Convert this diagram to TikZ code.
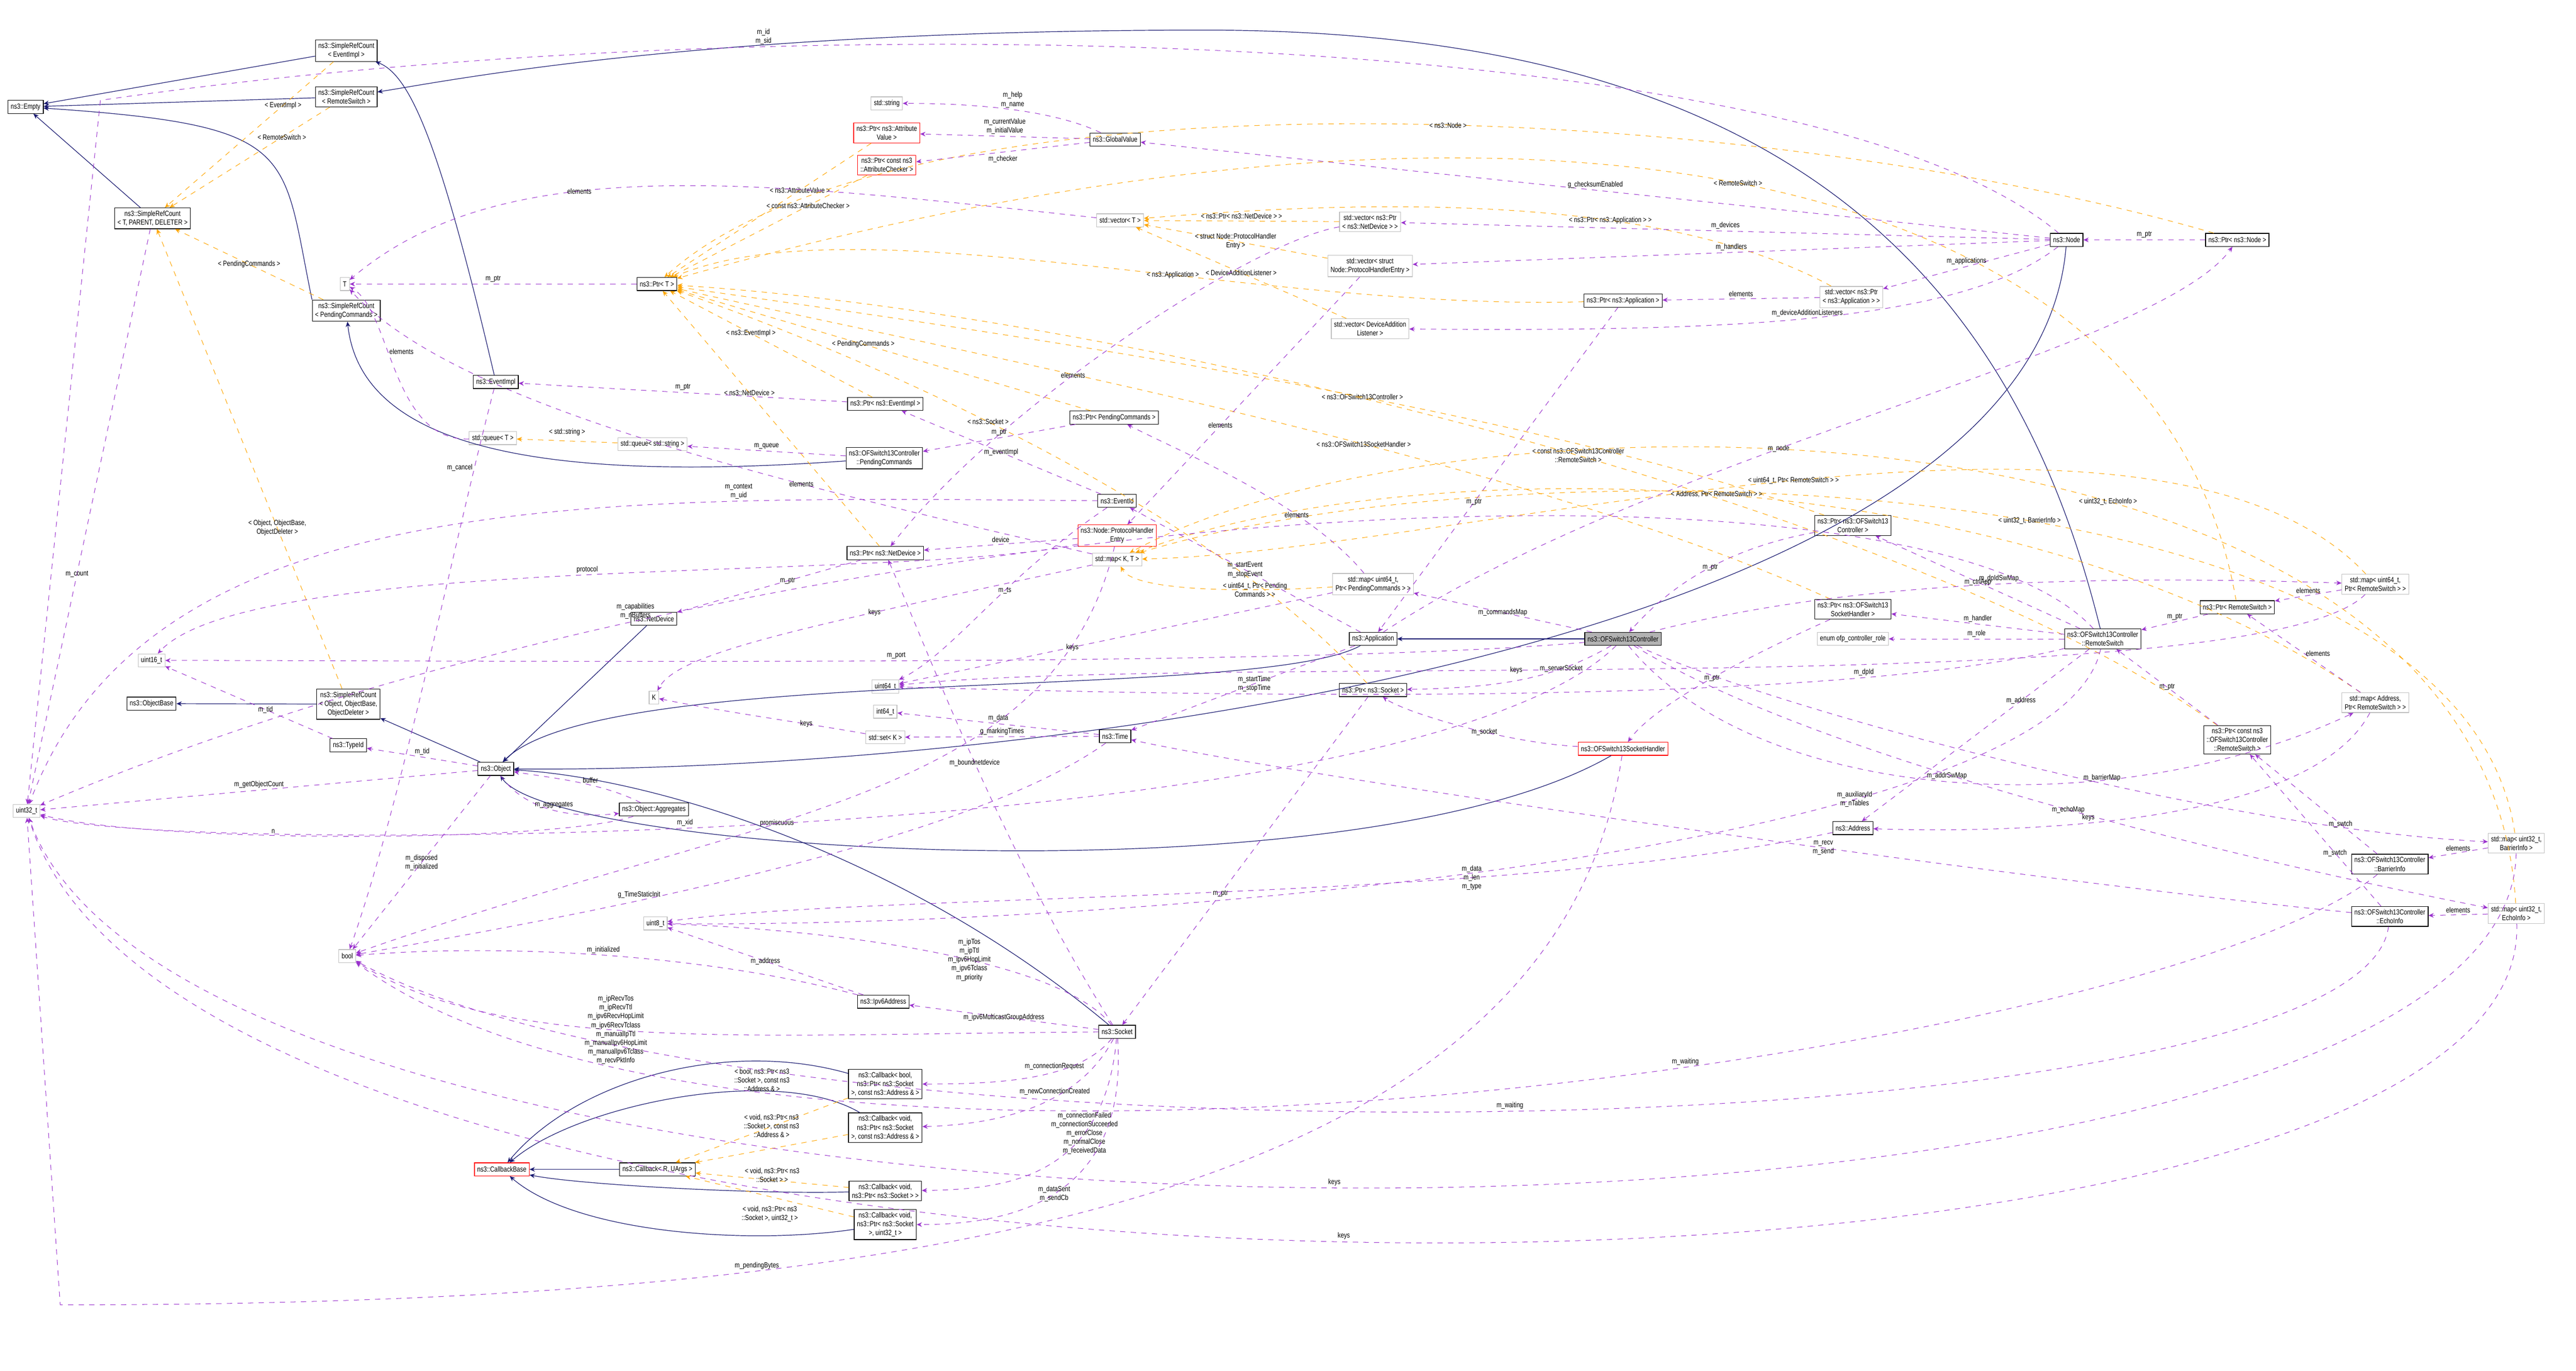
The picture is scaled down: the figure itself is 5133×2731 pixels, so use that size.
\documentclass[tikz,border=0pt]{standalone}
\usepackage{fontspec}
\setmainfont{Liberation Sans}[FakeStretch=0.8]
\usetikzlibrary{arrows.meta}
\definecolor{inhc}{HTML}{191970}
\definecolor{usec}{HTML}{9A32CD}
\definecolor{tplc}{HTML}{FFA500}
\tikzset{
 cls/.style={draw=black,fill=white,line width=0.35pt,font=\fontsize{4.2}{5}\selectfont,align=center,inner sep=1.6pt,minimum height=0.26cm},
 ext/.style={cls,draw=black!25},
 red/.style={cls,draw=red},
 cur/.style={cls,fill=black!30},
 inh/.style={draw=inhc,line width=0.35pt,-{Stealth[length=3pt,width=2.6pt]}},
 use/.style={draw=usec,line width=0.3pt,dashed,-{Stealth[length=3pt,width=2.6pt]}},
 tpl/.style={draw=tplc,line width=0.3pt,dashed,-{Stealth[length=3pt,width=2.6pt]}},
 lbl/.style={font=\fontsize{4.2}{5}\selectfont,align=center,inner sep=1pt}
}
\begin{document}
\begin{tikzpicture}[x=0.01cm,y=-0.01cm]
\useasboundingbox (0,0) rectangle (5133,2731);
% nodes
\node[cls] (empty) at (51,213) {ns3::Empty};
\node[cls] (srcE) at (690,101) {ns3::SimpleRefCount\\< EventImpl >};
\node[cls] (srcR) at (690,193) {ns3::SimpleRefCount\\< RemoteSwitch >};
\node[cls] (srcT) at (304,435) {ns3::SimpleRefCount\\< T, PARENT, DELETER >};
\node[cls] (srcP) at (690,619) {ns3::SimpleRefCount\\< PendingCommands >};
\node[ext] (tT) at (687,566) {T};
\node[cls] (ptrT) at (1309,566) {ns3::Ptr< T >};
\node[cls] (evImpl) at (988,761) {ns3::EventImpl};
\node[ext] (qT) at (982,873) {std::queue< T >};
\node[ext] (qS) at (1300,885) {std::queue< std::string >};
\node[ext] (str) at (1767,206) {std::string};
\node[red] (ptrAV) at (1767,265) {ns3::Ptr< ns3::Attribute\\Value >};
\node[red] (ptrAC) at (1767,329) {ns3::Ptr< const ns3\\::AttributeChecker >};
\node[cls] (gval) at (2222,278) {ns3::GlobalValue};
\node[ext] (vecT) at (2232,439) {std::vector< T >};
\node[ext] (vecND) at (2730,442) {std::vector< ns3::Ptr\\< ns3::NetDevice > >};
\node[ext] (vecPHE) at (2730,530) {std::vector< struct\\ Node::ProtocolHandlerEntry >};
\node[ext] (vecDAL) at (2730,655) {std::vector< DeviceAddition\\Listener >};
\node[cls] (ptrApp) at (3234,599) {ns3::Ptr< ns3::Application >};
\node[ext] (vecApp) at (3689,592) {std::vector< ns3::Ptr\\< ns3::Application > >};
\node[cls] (node) at (4118,478) {ns3::Node};
\node[cls] (ptrNode) at (4458,478) {ns3::Ptr< ns3::Node >};
\node[cls] (ptrEI) at (1764,805) {ns3::Ptr< ns3::EventImpl >};
\node[cls] (ptrPC) at (2220,832) {ns3::Ptr< PendingCommands >};
\node[cls] (pcmd) at (1762,913) {ns3::OFSwitch13Controller\\::PendingCommands};
\node[cls] (evId) at (2226,998) {ns3::EventId};
\node[red] (phe) at (2226,1067) {ns3::Node::ProtocolHandler\\Entry};
\node[cls] (ptrND) at (1764,1102) {ns3::Ptr< ns3::NetDevice >};
\node[ext] (mapKT) at (2226,1115) {std::map< K, T >};
\node[ext] (mapPC) at (2736,1164) {std::map< uint64\_t,\\ Ptr< PendingCommands > >};
\node[cls] (app) at (2736,1273) {ns3::Application};
\node[cur] (ctrl) at (3234,1273) {ns3::OFSwitch13Controller};
\node[cls] (ptrCtrl) at (3692,1047) {ns3::Ptr< ns3::OFSwitch13\\Controller >};
\node[cls] (ptrSH) at (3692,1214) {ns3::Ptr< ns3::OFSwitch13\\SocketHandler >};
\node[ext] (role) at (3692,1273) {enum ofp\_controller\_role};
\node[cls] (rsw) at (4190,1273) {ns3::OFSwitch13Controller\\::RemoteSwitch};
\node[cls] (ptrRS) at (4458,1210) {ns3::Ptr< RemoteSwitch >};
\node[ext] (mapDp) at (4733,1164) {std::map< uint64\_t,\\ Ptr< RemoteSwitch > >};
\node[ext] (mapAd) at (4733,1400) {std::map< Address,\\ Ptr< RemoteSwitch > >};
\node[cls] (ptrCRS) at (4458,1474) {ns3::Ptr< const ns3\\::OFSwitch13Controller\\::RemoteSwitch >};
\node[cls] (barr) at (4762,1722) {ns3::OFSwitch13Controller\\::BarrierInfo};
\node[cls] (echo) at (4762,1826) {ns3::OFSwitch13Controller\\::EchoInfo};
\node[ext] (mapB) at (5014,1680) {std::map< uint32\_t,\\ BarrierInfo >};
\node[ext] (mapE) at (5014,1820) {std::map< uint32\_t,\\ EchoInfo >};
\node[cls] (addr) at (3692,1650) {ns3::Address};
\node[cls] (ptrSock) at (2736,1375) {ns3::Ptr< ns3::Socket >};
\node[red] (sh) at (3234,1492) {ns3::OFSwitch13SocketHandler};
\node[cls] (netdev) at (1303,1233) {ns3::NetDevice};
\node[ext] (u16) at (302,1316) {uint16\_t};
\node[ext] (K) at (1303,1390) {K};
\node[ext] (u64) at (1764,1368) {uint64\_t};
\node[ext] (i64) at (1764,1418) {int64\_t};
\node[ext] (setK) at (1764,1469) {std::set< K >};
\node[cls] (time) at (2222,1467) {ns3::Time};
\node[cls] (obase) at (302,1402) {ns3::ObjectBase};
\node[cls] (srcO) at (694,1403) {ns3::SimpleRefCount\\< Object, ObjectBase,\\ ObjectDeleter >};
\node[cls] (tid) at (694,1485) {ns3::TypeId};
\node[cls] (obj) at (988,1532) {ns3::Object};
\node[cls] (aggr) at (1303,1613) {ns3::Object::Aggregates};
\node[ext] (u32) at (53,1616) {uint32\_t};
\node[ext] (u8) at (1306,1840) {uint8\_t};
\node[ext] (bool) at (692,1905) {bool};
\node[cls] (ipv6) at (1760,1996) {ns3::Ipv6Address};
\node[cls] (sock) at (2226,2056) {ns3::Socket};
\node[cls] (cbB) at (1764,2160) {ns3::Callback< bool,\\ ns3::Ptr< ns3::Socket\\ >, const ns3::Address \& >};
\node[cls] (cbA) at (1764,2247) {ns3::Callback< void,\\ ns3::Ptr< ns3::Socket\\ >, const ns3::Address \& >};
\node[red] (cbase) at (1000,2330) {ns3::CallbackBase};
\node[cls] (cbRU) at (1310,2330) {ns3::Callback< R, UArgs >};
\node[cls] (cbS) at (1764,2373) {ns3::Callback< void,\\ ns3::Ptr< ns3::Socket > >};
\node[cls] (cbU) at (1764,2440) {ns3::Callback< void,\\ ns3::Ptr< ns3::Socket\\ >, uint32\_t >};
% inheritance
\draw[inh] (srcE) -- (empty);
\draw[inh] (srcR) -- (empty);
\draw[inh] (srcT) -- (empty);
\draw[inh] (srcP.north west) .. controls (560,300) and (600,250) .. (empty);
\draw[inh] (evImpl) .. controls (880,300) and (820,150) .. (srcE);
\draw[inh] (rsw) .. controls (4000,500) and (3500,60) .. (2400,60) .. controls (1400,60) and (900,160) .. (srcR);
\draw[inh] (pcmd) .. controls (1100,960) and (720,900) .. (srcP);
\draw[inh] (srcO) -- (obase);
\draw[inh] (obj) -- (srcO);
\draw[inh] (netdev) -- (obj);
\draw[inh] (app) .. controls (2500,1400) and (1200,1320) .. (obj);
\draw[inh] (node) .. controls (4050,1300) and (2000,1540) .. (obj);
\draw[inh] (sock) .. controls (1800,1700) and (1300,1550) .. (obj);
\draw[inh] (sh) .. controls (2700,1800) and (1100,1700) .. (obj);
\draw[inh] (ctrl) -- (app);
\draw[inh] (cbRU) -- (cbase);
\draw[inh] (cbB) .. controls (1450,2070) and (1150,2150) .. (cbase);
\draw[inh] (cbA) .. controls (1550,2120) and (1150,2200) .. (cbase);
\draw[inh] (cbS) .. controls (1500,2380) and (1150,2360) .. (cbase);
\draw[inh] (cbU) .. controls (1500,2480) and (1150,2460) .. (cbase);
% templates
\draw[tpl] (srcE) -- node[lbl,pos=0.3]{< EventImpl >} (srcT);
\draw[tpl] (srcR) -- node[lbl,pos=0.3]{< RemoteSwitch >} (srcT);
\draw[tpl] (srcP) -- node[lbl]{< PendingCommands >} (srcT);
\draw[tpl] (srcO) -- node[lbl,pos=0.35]{< Object, ObjectBase,\\ ObjectDeleter >} (srcT);
\draw[tpl] (ptrAV) -- node[lbl,pos=0.35]{< ns3::AttributeValue >} (ptrT);
\draw[tpl] (ptrAC) -- node[lbl,pos=0.3]{< const ns3::AttributeChecker >} (ptrT);
\draw[tpl] (ptrNode) .. controls (3500,200) and (1800,120) .. node[lbl,pos=0.45]{< ns3::Node >} (ptrT);
\draw[tpl] (ptrRS) .. controls (4300,300) and (3000,90) .. node[lbl,pos=0.5]{< RemoteSwitch >} (ptrT);
\draw[tpl] (ptrApp) .. controls (2500,620) and (1700,400) .. node[lbl,pos=0.4]{< ns3::Application >} (ptrT);
\draw[tpl] (ptrEI) -- node[lbl,pos=0.6]{< ns3::EventImpl >} (ptrT);
\draw[tpl] (ptrPC) -- node[lbl,pos=0.55]{< PendingCommands >} (ptrT);
\draw[tpl] (ptrND) -- node[lbl,pos=0.6]{< ns3::NetDevice >} (ptrT);
\draw[tpl] (ptrSock) .. controls (2400,1000) and (1700,700) .. node[lbl,pos=0.55]{< ns3::Socket >} (ptrT);
\draw[tpl] (ptrCtrl) .. controls (3000,800) and (1900,650) .. node[lbl,pos=0.4]{< ns3::OFSwitch13Controller >} (ptrT);
\draw[tpl] (ptrSH) .. controls (3000,900) and (1900,700) .. node[lbl,pos=0.4]{< ns3::OFSwitch13SocketHandler >} (ptrT);
\draw[tpl] (ptrCRS) .. controls (3800,1000) and (2200,620) .. node[lbl,pos=0.45]{< const ns3::OFSwitch13Controller\\::RemoteSwitch >} (ptrT);
\draw[tpl] (vecND) -- node[lbl,above]{< ns3::Ptr< ns3::NetDevice > >} (vecT);
\draw[tpl] (vecPHE) -- node[lbl]{< struct Node::ProtocolHandler\\Entry >} (vecT);
\draw[tpl] (vecDAL) -- node[lbl]{< DeviceAdditionListener >} (vecT);
\draw[tpl] (vecApp) .. controls (3300,380) and (2700,400) .. node[lbl,pos=0.35]{< ns3::Ptr< ns3::Application > >} (vecT);
\draw[tpl] (qS) -- node[lbl,above=2pt]{< std::string >} (qT);
\draw[tpl] (mapPC) .. controls (2500,1180) and (2260,1180) .. node[lbl,pos=0.3]{< uint64\_t, Ptr< Pending\\Commands > >} (mapKT);
\draw[tpl] (mapDp) .. controls (4300,700) and (2900,1100) .. node[lbl,pos=0.5]{< uint64\_t, Ptr< RemoteSwitch > >} (mapKT);
\draw[tpl] (mapAd) .. controls (4000,900) and (2800,900) .. node[lbl,pos=0.5]{< Address, Ptr< RemoteSwitch > >} (mapKT);
\draw[tpl] (mapB) .. controls (4900,900) and (3000,880) .. node[lbl,pos=0.45]{< uint32\_t, BarrierInfo >} (mapKT);
\draw[tpl] (mapE) .. controls (4950,750) and (2900,750) .. node[lbl,pos=0.4]{< uint32\_t, EchoInfo >} (mapKT);
\draw[tpl] (cbB) -- node[lbl,yshift=1cm]{< bool, ns3::Ptr< ns3\\::Socket >, const ns3\\::Address \& >} (cbRU);
\draw[tpl] (cbA) -- node[lbl,yshift=0.45cm]{< void, ns3::Ptr< ns3\\::Socket >, const ns3\\::Address \& >} (cbRU);
\draw[tpl] (cbS) -- node[lbl,yshift=0.1cm]{< void, ns3::Ptr< ns3\\::Socket > >} (cbRU);
\draw[tpl] (cbU) -- node[lbl,yshift=-0.35cm]{< void, ns3::Ptr< ns3\\::Socket >, uint32\_t >} (cbRU);
% usage
\draw[use] (srcT) -- node[lbl,pos=0.6]{m\_count} (u32);
\draw[use] (ptrT) -- node[lbl,above]{m\_ptr} (tT);
\draw[use] (vecT) .. controls (1500,360) and (1000,300) .. node[lbl,pos=0.6]{elements} (tT);
\draw[use] (qT) .. controls (780,880) and (780,620) .. node[lbl,pos=0.6,right]{elements} (tT);
\draw[use] (mapKT) .. controls (1500,950) and (900,800) .. node[lbl,pos=0.3]{elements} (tT);
\draw[use] (mapKT) .. controls (1600,1250) and (1350,1300) .. node[lbl,pos=0.3]{keys} (K);
\draw[use] (setK) .. controls (1600,1440) and (1450,1420) .. node[lbl,pos=0.3]{keys} (K);
\draw[use] (gval) .. controls (2100,220) and (1950,206) .. node[lbl,pos=0.5,above]{m\_help\\m\_name} (str);
\draw[use] (gval) -- node[lbl,above]{m\_currentValue\\m\_initialValue} (ptrAV);
\draw[use] (gval) -- node[lbl,below=1pt]{m\_checker} (ptrAC);
\draw[use] (node) -- node[lbl,above]{g\_checksumEnabled} (gval);
\draw[use] (node) -- node[lbl,above]{m\_devices} (vecND);
\draw[use] (node) -- node[lbl,above]{m\_handlers} (vecPHE);
\draw[use] (node) -- node[lbl,above]{m\_applications} (vecApp);
\draw[use] (node) .. controls (3900,650) and (3400,660) .. node[lbl,above]{m\_deviceAdditionListeners} (vecDAL);
\draw[use] (node) .. controls (3600,40) and (1500,10) .. node[lbl,pos=0.7,above]{m\_id\\m\_sid} (200,200) -- (u32);
\draw[use] (ptrNode) -- node[lbl,above]{m\_ptr} (node);
\draw[use] (vecApp) -- node[lbl,above]{elements} (ptrApp);
\draw[use] (ptrApp) -- node[lbl,pos=0.6]{m\_ptr} (app);
\draw[use] (vecND) .. controls (2500,480) and (2000,800) .. node[lbl,pos=0.6]{elements} (ptrND);
\draw[use] (vecPHE) -- node[lbl,pos=0.6]{elements} (phe);
\draw[use] (phe) -- node[lbl,above]{device} (ptrND);
\draw[use] (phe) .. controls (1800,1160) and (500,1100) .. node[lbl,pos=0.5,above]{protocol} (u16);
\draw[use] (phe) .. controls (2100,1600) and (1500,1620) .. node[lbl,pos=0.6]{promiscuous} (bool);
\draw[use] (ptrND) -- node[lbl,pos=0.4]{m\_ptr} (netdev);
\draw[use] (ptrEI) -- node[lbl,above]{m\_ptr} (evImpl);
\draw[use] (evImpl) .. controls (900,1100) and (800,1600) .. node[lbl,pos=0.15,left]{m\_cancel} (bool);
\draw[use] (evId) -- node[lbl]{m\_eventImpl} (ptrEI);
\draw[use] (evId) .. controls (1200,990) and (300,960) .. node[lbl,pos=0.25,above]{m\_context\\m\_uid} (u32);
\draw[use] (evId) .. controls (2000,1150) and (1900,1300) .. node[lbl,pos=0.4]{m\_ts} (u64);
\draw[use] (ptrPC) -- node[lbl,above]{m\_ptr} (pcmd);
\draw[use] (pcmd) -- node[lbl,above]{m\_queue} (qS);
\draw[use] (mapPC) .. controls (2600,1000) and (2350,900) .. node[lbl,pos=0.3]{elements} (ptrPC);
\draw[use] (mapPC) -- node[lbl,pos=0.6]{keys} (u64);
\draw[use] (ctrl) -- node[lbl]{m\_commandsMap} (mapPC);
\draw[use] (ctrl) .. controls (3100,1350) and (3000,1370) .. node[lbl,pos=0.3]{m\_serverSocket} (ptrSock);
\draw[use] (ctrl) .. controls (3600,1180) and (4000,1140) .. node[lbl,pos=0.6,above]{m\_dpIdSwMap} (mapDp);
\draw[use] (ctrl) .. controls (3500,1600) and (4200,1650) .. node[lbl,pos=0.5,above]{m\_addrSwMap} (mapAd);
\draw[use] (ctrl) .. controls (3500,1400) and (4400,1650) .. node[lbl,pos=0.6,above]{m\_barrierMap} (mapB);
\draw[use] (ctrl) .. controls (3600,1500) and (4400,1700) .. node[lbl,pos=0.55]{m\_echoMap} (mapE);
\draw[use] (ctrl) .. controls (2800,1700) and (300,1700) .. node[lbl,pos=0.55,above]{m\_xid} (u32);
\draw[use] (ctrl) .. controls (2600,1330) and (1000,1316) .. node[lbl,pos=0.5,above]{m\_port} (u16);
\draw[use] (app) -- node[lbl,pos=0.5]{m\_startEvent\\m\_stopEvent} (evId);
\draw[use] (app) -- node[lbl,pos=0.45]{m\_startTime\\m\_stopTime} (time);
\draw[use] (app) .. controls (3300,900) and (4300,700) .. node[lbl,pos=0.4]{m\_node} (ptrNode);
\draw[use] (ptrSock) -- node[lbl,pos=0.6]{m\_ptr} (sock);
\draw[use] (sh) .. controls (3000,1480) and (2800,1420) .. node[lbl,pos=0.4]{m\_socket} (ptrSock);
\draw[use] (sh) .. controls (3100,2400) and (1800,2600) .. node[lbl,pos=0.7,above]{m\_pendingBytes} (120,2600) -- (u32);
\draw[use] (rsw) -- node[lbl,pos=0.5]{m\_ctrlApp} (ptrCtrl);
\draw[use] (rsw) -- node[lbl,above]{m\_handler} (ptrSH);
\draw[use] (rsw) -- node[lbl,above]{m\_role} (role);
\draw[use] (rsw) -- node[lbl,pos=0.3]{m\_address} (addr);
\draw[use] (rsw) .. controls (3600,1420) and (2200,1380) .. node[lbl,pos=0.2,above]{m\_dpId} (u64);
\draw[use] (rsw) .. controls (4100,1700) and (2200,1850) .. node[lbl,pos=0.3]{m\_auxiliaryId\\m\_nTables} (u8);
\draw[use] (rsw) .. controls (3800,850) and (1500,1000) .. node[lbl,pos=0.75,above]{m\_capabilities\\m\_nBuffers} (u32);
\draw[use] (ptrCtrl) .. controls (3400,1100) and (3300,1200) .. node[lbl,pos=0.4]{m\_ptr} (ctrl);
\draw[use] (ptrSH) .. controls (3500,1300) and (3300,1400) .. node[lbl,pos=0.5]{m\_ptr} (sh);
\draw[use] (ptrRS) -- node[lbl,above]{m\_ptr} (rsw);
\draw[use] (ptrCRS) -- node[lbl]{m\_ptr} (rsw);
\draw[use] (mapDp) -- node[lbl,above]{elements} (ptrRS);
\draw[use] (mapDp) .. controls (4500,1400) and (2400,1300) .. node[lbl,pos=0.6]{keys} (u64);
\draw[use] (mapAd) -- node[lbl,right]{elements} (ptrRS);
\draw[use] (mapAd) .. controls (4600,1650) and (4000,1660) .. node[lbl,pos=0.6,above]{keys} (addr);
\draw[use] (barr) -- node[lbl,pos=0.3]{m\_swtch} (ptrCRS);
\draw[use] (echo) -- node[lbl,pos=0.35]{m\_swtch} (ptrCRS);
\draw[use] (barr) .. controls (4300,2100) and (1500,2500) .. node[lbl,pos=0.4,above]{m\_waiting} (bool);
\draw[use] (echo) .. controls (4700,2300) and (1500,2350) .. node[lbl,pos=0.5,above]{m\_waiting} (bool);
\draw[use] (echo) .. controls (4000,1750) and (2600,1550) .. node[lbl,pos=0.4]{m\_recv\\m\_send} (time);
\draw[use] (mapB) -- node[lbl,above]{elements} (barr);
\draw[use] (mapE) -- node[lbl,above]{elements} (echo);
\draw[use] (mapB) .. controls (5000,2600) and (400,2600) .. node[lbl,pos=0.5,above]{keys} (u32);
\draw[use] (mapE) .. controls (5050,2720) and (400,2720) .. node[lbl,pos=0.5,above]{keys} (u32);
\draw[use] (time) -- node[lbl,above]{m\_data} (i64);
\draw[use] (time) -- node[lbl,above]{g\_markingTimes} (setK);
\draw[use] (time) .. controls (1900,1700) and (1000,1850) .. node[lbl,pos=0.6,above]{g\_TimeStaticInit} (bool);
\draw[use] (obj) -- node[lbl,above]{m\_tid} (tid);
\draw[use] (obj) -- node[lbl,above]{m\_getObjectCount} (u32);
\draw[use] (obj) .. controls (1050,1620) and (1150,1630) .. node[lbl,pos=0.5,above]{m\_aggregates} (aggr);
\draw[use] (aggr) .. controls (1200,1560) and (1100,1550) .. node[lbl,pos=0.4,above]{buffer} (obj);
\draw[use] (aggr) .. controls (1100,1680) and (300,1680) .. node[lbl,pos=0.6,above]{n} (u32);
\draw[use] (obj) -- node[lbl,pos=0.5]{m\_disposed\\m\_initialized} (bool);
\draw[use] (tid) -- node[lbl,pos=0.4]{m\_tid} (u16);
\draw[use] (addr) .. controls (3000,1800) and (1700,1780) .. node[lbl,pos=0.3]{m\_data\\m\_len\\m\_type} (u8);
\draw[use] (ipv6) -- node[lbl]{m\_address} (u8);
\draw[use] (ipv6) .. controls (1400,1900) and (1000,1880) .. node[lbl,pos=0.5,above]{m\_initialized} (bool);
\draw[use] (sock) -- node[lbl]{m\_ipv6MulticastGroupAddress} (ipv6);
\draw[use] (sock) .. controls (2100,1900) and (1600,1850) .. node[lbl,pos=0.4]{m\_ipTos\\m\_ipTtl\\m\_ipv6HopLimit\\m\_ipv6Tclass\\m\_priority} (u8);
\draw[use] (sock) .. controls (1500,2060) and (1000,2100) .. node[lbl,pos=0.55]{m\_ipRecvTos\\m\_ipRecvTtl\\m\_ipv6RecvHopLimit\\m\_ipv6RecvTclass\\m\_manualIpTtl\\m\_manualIpv6HopLimit\\m\_manualIpv6Tclass\\m\_recvPktInfo} (bool);
\draw[use] (sock) .. controls (2150,2150) and (2000,2160) .. node[lbl,pos=0.4,above]{m\_connectionRequest} (cbB);
\draw[use] (sock) .. controls (2150,2200) and (2000,2240) .. node[lbl,pos=0.4,above]{m\_newConnectionCreated} (cbA);
\draw[use] (sock) .. controls (2200,2350) and (2000,2370) .. node[lbl,pos=0.3]{m\_connectionFailed\\m\_connectionSucceeded\\m\_errorClose\\m\_normalClose\\m\_receivedData} (cbS);
\draw[use] (sock) .. controls (2250,2400) and (2000,2440) .. node[lbl,pos=0.5]{m\_dataSent\\m\_sendCb} (cbU);
\draw[use] (sock) .. controls (2000,1700) and (1850,1300) .. node[lbl,pos=0.5]{m\_boundnetdevice} (ptrND);
\end{tikzpicture}
\end{document}
